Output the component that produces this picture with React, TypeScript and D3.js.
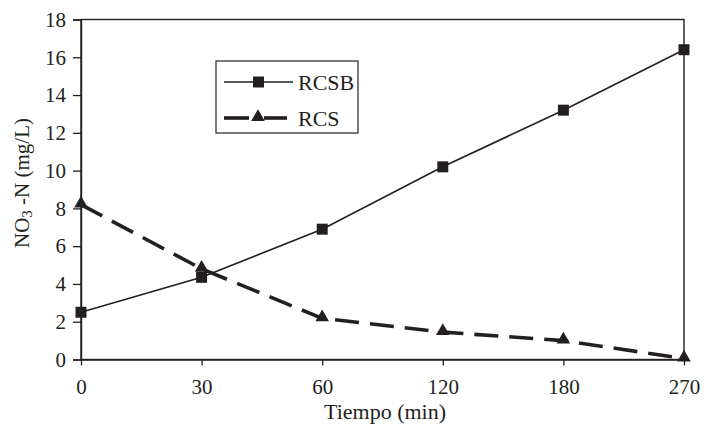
import * as d3 from "d3";
import React, { useEffect, useRef } from "react";

// tiempo (min) - categorias equiespaciadas
const tiempos = ["0", "30", "60", "120", "180", "270"];
const rcsb = [2.5, 4.35, 6.9, 10.2, 13.2, 16.4];
const rcs = [8.2, 4.8, 2.18, 1.45, 1.0, 0.05];
const yTicks = [0, 2, 4, 6, 8, 10, 12, 14, 16, 18];
const seriesNames = ["RCSB", "RCS"];

const FONT = "'Liberation Serif', 'Times New Roman', serif";
const INK = "#231f20";

function Chart() {
    const ref = useRef<SVGSVGElement>(null);

    function drawChart() {
        const svg = d3.select(ref.current);
        svg.selectAll("*").remove();

        const left = 81;
        const right = 684;
        const top = 19.5;
        const bottom = 359.5;

        const x = d3.scalePoint().domain(tiempos).range([left, right]).padding(0);
        const y = d3.scaleLinear().domain([0, 18]).range([bottom, top]);

        // marco
        svg.append("rect")
            .attr("x", left)
            .attr("y", top)
            .attr("width", right - left)
            .attr("height", bottom - top)
            .attr("fill", "none")
            .attr("stroke", INK)
            .attr("stroke-width", 1.4);

        // eje y
        const yAxis = svg
            .append("g")
            .attr("transform", `translate(${left},0)`)
            .call(d3.axisLeft(y).tickValues(yTicks).tickSize(8).tickPadding(7));
        yAxis.select(".domain").attr("stroke", INK).attr("stroke-width", 1.4);
        yAxis.selectAll("line").attr("stroke", INK).attr("stroke-width", 1.3);
        yAxis.selectAll("text")
            .attr("fill", INK)
            .style("font-family", FONT)
            .style("font-size", "21px");

        // eje x
        const xAxis = svg
            .append("g")
            .attr("transform", `translate(0,${bottom})`)
            .call(d3.axisBottom(x).tickSize(6).tickPadding(14).tickSizeOuter(0));
        xAxis.select(".domain").attr("stroke", INK).attr("stroke-width", 1.4);
        xAxis.selectAll("line").attr("stroke", INK).attr("stroke-width", 1.3);
        xAxis.selectAll("text")
            .attr("fill", INK)
            .style("font-family", FONT)
            .style("font-size", "21px");

        // titulos
        svg.append("text")
            .attr("x", 385)
            .attr("y", 419)
            .attr("text-anchor", "middle")
            .attr("fill", INK)
            .style("font-family", FONT)
            .style("font-size", "22px")
            .text("Tiempo (min)");

        const yt = svg
            .append("text")
            .attr("transform", `translate(29,183) rotate(-90)`)
            .attr("text-anchor", "middle")
            .attr("fill", INK)
            .style("font-family", FONT)
            .style("font-size", "21px");
        yt.append("tspan").text("NO");
        yt.append("tspan").attr("dy", 3).style("font-size", "15px").text("3");
        yt.append("tspan").attr("dy", -3).text(" -N (mg/L)");

        const line = d3
            .line<number>()
            .x((d, i) => x(tiempos[i]) as number)
            .y((d) => y(d));

        // RCS (discontinua)
        svg.append("path")
            .attr("d", line(rcs))
            .attr("fill", "none")
            .attr("stroke", INK)
            .attr("stroke-width", 3.6)
            .attr("stroke-dasharray", "24 11");

        // RCSB (continua)
        svg.append("path")
            .attr("d", line(rcsb))
            .attr("fill", "none")
            .attr("stroke", INK)
            .attr("stroke-width", 1.6);

        const tri = d3.symbol().type(d3.symbolTriangle).size(80);

        svg.selectAll(".sq")
            .data(rcsb)
            .enter()
            .append("rect")
            .attr("x", (d, i) => (x(tiempos[i]) as number) - 5.5)
            .attr("y", (d) => y(d) - 5.5)
            .attr("width", 11)
            .attr("height", 11)
            .attr("fill", INK);

        svg.selectAll(".tri")
            .data(rcs)
            .enter()
            .append("path")
            .attr("d", tri)
            .attr("transform", (d, i) => `translate(${x(tiempos[i])},${y(d) - 1})`)
            .attr("fill", INK);

        // leyenda
        const lg = svg.append("g");
        lg.append("rect")
            .attr("x", 216)
            .attr("y", 61)
            .attr("width", 142)
            .attr("height", 72)
            .attr("fill", "white")
            .attr("stroke", INK)
            .attr("stroke-width", 1.2);

        seriesNames.forEach((name, i) => {
            const ly = 82 + i * 36;
            if (i === 0) {
                lg.append("line")
                    .attr("x1", 224).attr("x2", 293)
                    .attr("y1", ly).attr("y2", ly)
                    .attr("stroke", INK).attr("stroke-width", 1.6);
                lg.append("rect")
                    .attr("x", 253).attr("y", ly - 5.5)
                    .attr("width", 11).attr("height", 11)
                    .attr("fill", INK);
            } else {
                lg.append("line")
                    .attr("x1", 224).attr("x2", 249)
                    .attr("y1", ly).attr("y2", ly)
                    .attr("stroke", INK).attr("stroke-width", 3.6);
                lg.append("line")
                    .attr("x1", 264).attr("x2", 287)
                    .attr("y1", ly).attr("y2", ly)
                    .attr("stroke", INK).attr("stroke-width", 3.6);
                lg.append("path")
                    .attr("d", tri)
                    .attr("transform", `translate(258,${ly - 1})`)
                    .attr("fill", INK);
            }
            lg.append("text")
                .attr("x", 298)
                .attr("y", ly)
                .attr("dominant-baseline", "central")
                .attr("fill", INK)
                .style("font-family", FONT)
                .style("font-size", "22px")
                .text(name);
        });
    }

    useEffect(() => {
        drawChart();
    }, []);

    return (
        <svg
            ref={ref}
            width={704}
            height={425}
            style={{ position: "absolute", left: 0, top: 0, background: "white" }}
        />
    );
}

export default function App() {
    return <Chart />;
}
